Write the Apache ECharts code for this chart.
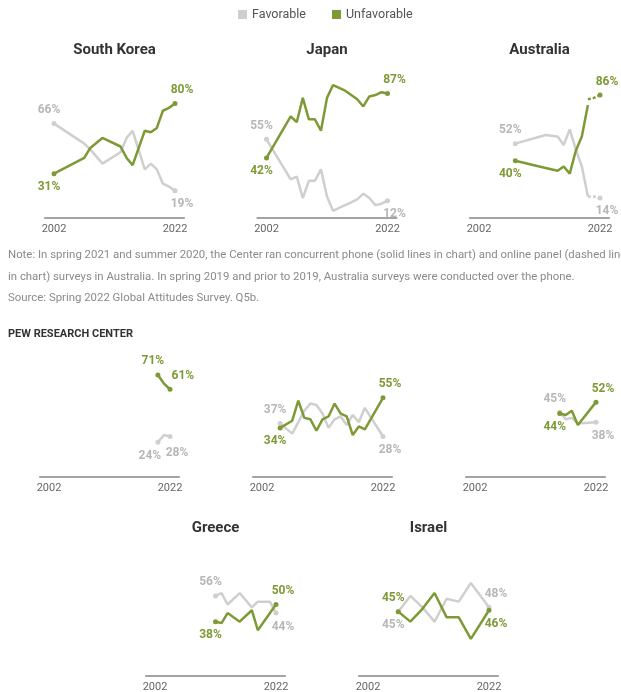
<!DOCTYPE html>
<html><head><meta charset="utf-8">
<script src="https://cdn.jsdelivr.net/npm/echarts@6/dist/echarts.min.js"></script>
<style>html,body{margin:0;padding:0;background:#fff}#c{width:621px;height:692px}</style>
</head><body><div id="c"></div>
<script>
// ---------------- DATA ----------------
const tickYears = [2002, 2022];
const legendNames = ['Favorable', 'Unfavorable'];

const skYears  = [2002, 2007, 2008, 2010, 2013, 2014, 2015, 2017, 2018, 2019, 2020, 2021, 2022];
const skFav    = [66, 52, 48, 38, 46, 56, 61, 34, 38, 34, 24, 22, 19];
const skUnfav  = [31, 42, 49, 56, 50, 42, 37, 61, 60, 63, 75, 77, 80];

const jpYears  = [2002, 2006, 2007, 2008, 2009, 2010, 2011, 2012, 2013, 2014, 2015, 2016, 2017, 2018, 2019, 2020, 2021, 2022];
const jpFav    = [55, 27, 29, 14, 26, 26, 34, 15, 5, 7, 9, 11, 13, 17, 14, 9, 10, 12];
const jpUnfav  = [42, 71, 67, 84, 69, 69, 61, 84, 93, 91, 89, 86, 83, 78, 85, 86, 88, 87];

const auYears      = [2008, 2013, 2015, 2016, 2017, 2018, 2019, 2020];
const auFav        = [52, 58, 57, 51, 62, 48, 36, 15];
const auUnfav      = [40, 35, 33, 36, 31, 47, 57, 79];
const auOnlineYears = [2020, 2021, 2022];
const auOnlineFav   = [15, 15, 14];
const auOnlineUnfav = [83, 84, 86];

const r2aYears = [2020, 2021, 2022];
const r2aFav   = [24, 29, 28];
const r2aUnfav = [71, 65, 61];

const r2bYears = [2005, 2007, 2008, 2009, 2010, 2011, 2012, 2013, 2014, 2015, 2016, 2017, 2018, 2019, 2022];
const r2bFav   = [37, 30, 38, 46, 51, 50, 44, 34, 40, 42, 36, 43, 38, 48, 28];
const r2bUnfav = [34, 39, 53, 41, 40, 32, 40, 42, 51, 44, 42, 29, 35, 33, 55];

const r2cYears = [2016, 2017, 2018, 2019, 2022];
const r2cFav   = [45, 40, 41, 37, 38];
const r2cUnfav = [44, 43, 46, 36, 52];

const grYears  = [2012, 2013, 2014, 2016, 2018, 2019, 2021, 2022];
const grFav    = [56, 58, 50, 58, 48, 52, 52, 44];
const grUnfav  = [38, 37, 44, 38, 46, 32, 44, 50];

const ilYears  = [2007, 2009, 2011, 2013, 2015, 2017, 2019, 2022];
const ilFav    = [45, 56, 48, 38, 54, 52, 65, 48];
const ilUnfav  = [45, 38, 47, 58, 41, 41, 26, 46];

// ---------------- STYLE / LAYOUT ----------------
const FONT = 'Roboto, "Noto Sans", Arial, sans-serif';
const GREEN = '#7d9a36';
const GRAY = '#cfcfcf';
const GRAY_TXT = '#b7b7b7';
const PX = 6.05;      // px per year
const PLOT_H = 143;   // px for 0..100

const panels = [
  { title: 'South Korea', x0: 54,    axisY: 218 },
  { title: 'Japan',       x0: 266.5, axisY: 218 },
  { title: 'Australia',   x0: 479,   axisY: 218 },
  { title: '',            x0: 49,    axisY: 476.5 },
  { title: '',            x0: 262,   axisY: 476.5 },
  { title: '',            x0: 475,   axisY: 476.5 },
  { title: 'Greece',      x0: 155,   axisY: 676 },
  { title: 'Israel',      x0: 368,   axisY: 676 }
];

const T = (pos, off, dist) => ({ pos, off: off || [0, 0], dist: dist == null ? 5 : dist });
const S_TOP = T('top', [-5, 0]), S_BOT = T('bottom', [-5, 0]);
const E_TOP = T('top', [7, 0]),  E_BOT = T('bottom', [7, 0]);

function mk(name, g, years, vals, dashed, cfg) {
  const color = name === 'Favorable' ? GRAY : GREEN;
  const txt = name === 'Favorable' ? GRAY_TXT : GREEN;
  const n = years.length;
  const data = years.map((y, i) => {
    const first = i === 0, last = i === n - 1;
    const lab = first ? cfg.first : (last ? cfg.last : null);
    const dot = (first && cfg.dotFirst !== false) || (last && cfg.dotLast !== false);
    const item = { value: [y, vals[i]], symbolSize: dot ? 5 : 0 };
    if (lab) {
      item.label = {
        show: true, position: lab.pos, offset: lab.off, distance: lab.dist,
        color: txt, fontSize: 12, fontWeight: 'bold', fontFamily: FONT,
        formatter: p => p.value[1] + '%'
      };
    }
    return item;
  });
  return {
    type: 'line', name, xAxisIndex: g, yAxisIndex: g, data,
    symbol: 'circle', showSymbol: true, showAllSymbol: true,
    lineStyle: { color, width: 2.5, type: dashed ? [3, 2] : 'solid' },
    itemStyle: { color },
    label: { show: false },
    emphasis: { disabled: true }, silent: true,
    z: name === 'Favorable' ? 2 : 3, animation: false
  };
}

const series = [
  mk('Favorable', 0, skYears, skFav, false, { first: S_TOP, last: E_BOT }),
  mk('Unfavorable', 0, skYears, skUnfav, false, { first: S_BOT, last: E_TOP }),
  mk('Favorable', 1, jpYears, jpFav, false, { first: S_TOP, last: E_BOT }),
  mk('Unfavorable', 1, jpYears, jpUnfav, false, { first: S_BOT, last: E_TOP }),
  mk('Favorable', 2, auYears, auFav, false, { first: S_TOP, last: null, dotLast: false }),
  mk('Unfavorable', 2, auYears, auUnfav, false, { first: S_BOT, last: null, dotLast: false }),
  mk('Favorable', 2, auOnlineYears, auOnlineFav, true, { first: null, last: E_BOT, dotFirst: false }),
  mk('Unfavorable', 2, auOnlineYears, auOnlineUnfav, true, { first: null, last: E_TOP, dotFirst: false }),
  mk('Favorable', 3, r2aYears, r2aFav, false, { first: T('bottom', [-8, 0]), last: T('bottom', [7, 3]) }),
  mk('Unfavorable', 3, r2aYears, r2aUnfav, false, { first: T('top', [-5, 0]), last: T('right', [-3, -13], 2) }),
  mk('Favorable', 4, r2bYears, r2bFav, false, { first: S_TOP, last: E_BOT }),
  mk('Unfavorable', 4, r2bYears, r2bUnfav, false, { first: S_BOT, last: E_TOP }),
  mk('Favorable', 5, r2cYears, r2cFav, false, { first: S_TOP, last: E_BOT }),
  mk('Unfavorable', 5, r2cYears, r2cUnfav, false, { first: S_BOT, last: E_TOP }),
  mk('Favorable', 6, grYears, grFav, false, { first: S_TOP, last: E_BOT }),
  mk('Unfavorable', 6, grYears, grUnfav, false, { first: S_BOT, last: E_TOP }),
  mk('Favorable', 7, ilYears, ilFav, false, { first: S_BOT, last: E_TOP }),
  mk('Unfavorable', 7, ilYears, ilUnfav, false, { first: S_TOP, last: E_BOT })
];

const grid = panels.map(p => ({
  left: p.x0 - 1.5 * PX, top: p.axisY - PLOT_H, width: 23 * PX, height: PLOT_H,
  containLabel: false, outerBoundsMode: 'none'
}));
const xAxis = panels.map((p, i) => ({
  gridIndex: i, type: 'value', min: 2000.5, max: 2023.5,
  axisLine: { show: true, onZero: false, lineStyle: { color: '#a3a3a3', width: 2 } },
  axisTick: { show: false }, splitLine: { show: false },
  axisLabel: { customValues: tickYears, color: '#666', fontSize: 11, fontFamily: FONT, margin: 6,
               formatter: v => String(v) }
}));
const yAxis = panels.map((p, i) => ({ gridIndex: i, type: 'value', min: 0, max: 100, show: false }));

const graphic = [];
panels.forEach(p => {
  if (!p.title) return;
  const y = p.axisY < 300 ? 50 : 528;
  graphic.push({ type: 'text', x: p.x0 + 60.5, y, silent: true,
    style: { text: p.title, fill: '#333', font: 'bold 15px ' + FONT,
             align: 'center', textAlign: 'center', verticalAlign: 'middle', textVerticalAlign: 'middle' } });
});
const notes = [
  'Note: In spring 2021 and summer 2020, the Center ran concurrent phone (solid lines in chart) and online panel (dashed lines',
  'in chart) surveys in Australia. In spring 2019 and prior to 2019, Australia surveys were conducted over the phone.',
  'Source: Spring 2022 Global Attitudes Survey. Q5b.'
];
[255, 277, 298].forEach((y, i) => graphic.push({ type: 'text', x: 8, y, silent: true,
  style: { text: notes[i], fill: '#8a8a8a', font: '11.4px ' + FONT, verticalAlign: 'middle', textVerticalAlign: 'middle' } }));
graphic.push({ type: 'text', x: 8, y: 334, silent: true,
  style: { text: 'PEW RESEARCH CENTER', fill: '#333', font: 'bold 11px ' + FONT, verticalAlign: 'middle', textVerticalAlign: 'middle' } });

const chart = echarts.init(document.getElementById('c'), null, { renderer: 'canvas' });
chart.setOption({
  animation: false,
  backgroundColor: '#fff',
  legend: {
    data: [{ name: legendNames[0], itemStyle: { color: GRAY } }, { name: legendNames[1], itemStyle: { color: GREEN } }],
    left: 233, top: 3, icon: 'rect', itemWidth: 9, itemHeight: 9, itemGap: 26,
    selectedMode: false,
    textStyle: { color: '#555', fontSize: 12.5, fontFamily: FONT }
  },
  grid, xAxis, yAxis, series, graphic
});
</script>
</body></html>
